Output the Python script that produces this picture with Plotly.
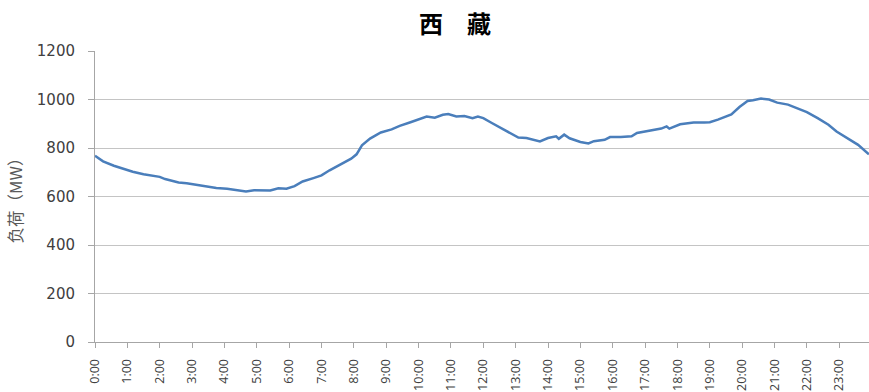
import plotly.graph_objects as go

# ---- data ----
title_text = "西　藏"
y_title = "负荷（MW）"

times = ["0:00", "0:15", "0:35", "0:55", "1:10", "1:30", "1:50", "2:00", "2:10", "2:25",
         "2:35", "2:50", "3:10", "3:30", "3:45", "4:05", "4:25", "4:40", "4:55", "5:05",
         "5:25", "5:40", "5:55", "6:10", "6:25", "6:45", "7:00", "7:15", "7:35", "7:55",
         "8:05", "8:15", "8:30", "8:50", "9:10", "9:25", "9:45", "10:05", "10:15", "10:30",
         "10:45", "10:55", "11:10", "11:25", "11:40", "11:50", "12:00", "12:15", "12:30", "12:50",
         "13:05", "13:20", "13:45", "14:00", "14:15", "14:20", "14:30", "14:40", "15:00", "15:15",
         "15:25", "15:45", "15:55", "16:15", "16:35", "16:45", "17:10", "17:30", "17:40", "17:45",
         "18:05", "18:30", "18:50", "19:00", "19:15", "19:40", "19:55", "20:10", "20:20", "20:35",
         "20:50", "21:05", "21:25", "21:40", "22:00", "22:20", "22:40", "22:55", "23:15", "23:35",
         "23:55"]

load_mw = [768, 745, 727, 713, 702, 692, 686, 681, 672, 662,
           658, 655, 648, 641, 635, 632, 625, 621, 626, 625,
           625, 634, 632, 643, 662, 676, 687, 708, 731, 756,
           774, 811, 839, 864, 877, 891, 906, 920, 930, 925,
           937, 940, 930, 932, 923, 930, 923, 904, 885, 862,
           843, 841, 827, 841, 848, 838, 855, 840, 825, 819,
           828, 834, 845, 845, 848, 862, 873, 880, 889, 880,
           898, 905, 905, 906, 917, 938, 969, 994, 997, 1004,
           1000, 987, 979, 966, 948, 923, 896, 868, 842, 813,
           774]

tick_hours = list(range(24))
tick_labels = [f"{h}:00" for h in tick_hours]
y_ticks = [0, 200, 400, 600, 800, 1000, 1200]


def to_hours(t):
    h, m = t.split(":")
    return int(h) + int(m) / 60.0


x_hours = [to_hours(t) for t in times]

fig = go.Figure()
fig.add_trace(go.Scatter(
    x=x_hours, y=load_mw, mode="lines",
    line=dict(color="#4a7ebb", width=2.5),
    showlegend=False, hoverinfo="skip",
))

W, H = 869, 392
fig.update_layout(
    width=W, height=H,
    margin=dict(l=95, r=0, t=51, b=50, autoexpand=False),
    paper_bgcolor="white", plot_bgcolor="white",
    title=dict(
        text=title_text,
        x=455 / W, xref="container", xanchor="center",
        y=1 - 25 / H, yref="container", yanchor="middle",
        font=dict(family="Noto Sans CJK SC", size=24, color="#000000", weight="bold"),
        automargin=False,
    ),
)

fig.update_xaxes(
    range=[0, 23.92], automargin=False,
    tickmode="array", tickvals=tick_hours, ticktext=tick_labels,
    tickangle=-90,
    ticks="outside", ticklen=5, tickcolor="#a6a6a6", tickwidth=1,
    ticklabelstandoff=6,
    showline=True, linecolor="#a6a6a6", linewidth=1,
    showgrid=False, zeroline=False,
    tickfont=dict(family="Open Sans", size=12.5, color="#404040"),
)

fig.update_yaxes(
    range=[0, 1200], automargin=False,
    tickmode="array", tickvals=y_ticks,
    ticks="outside", ticklen=6, tickcolor="#a6a6a6", tickwidth=1,
    ticklabelstandoff=10,
    showline=True, linecolor="#a6a6a6", linewidth=1,
    showgrid=True, gridcolor="#c4c4c4", gridwidth=1,
    zeroline=False,
    tickfont=dict(family="DejaVu Sans", size=15, color="#404040"),
    title=dict(text=y_title, standoff=10,
               font=dict(family="Noto Sans CJK SC", size=16.5, color="#595959")),
)

fig.write_html(
    "out.html",
    config={"displayModeBar": False},
    post_script="document.body.style.margin='0';document.body.style.overflow='hidden';",
)
